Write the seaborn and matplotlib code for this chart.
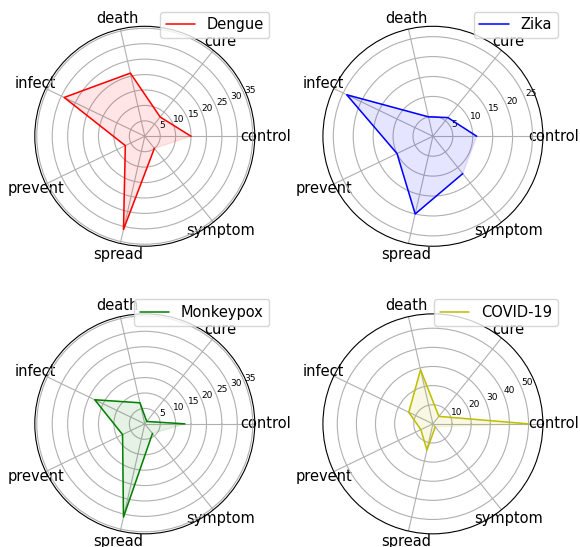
import numpy as np
import seaborn as sns
import matplotlib.pyplot as plt

# categories around the radar, counter-clockwise from the right
categories = ['control', 'cure', 'death', 'infect', 'prevent', 'spread', 'symptom']

# one list of values per disease
dengue = [15, 8, 21, 29, 7, 31, 5]
zika = [11, 6, 5, 24, 10, 20, 12]
monkeypox = [13, 1, 7, 18, 8, 31, 4]
covid = [50, 5, 29, 14, 7, 14, 2]

diseases = ['Dengue', 'Zika', 'Monkeypox', 'COVID-19']
series = [dengue, zika, monkeypox, covid]
colors = ['r', 'b', 'g', 'y']

# plain white look, black outer ring, grey grid, black text
sns.set_style('white', {'axes.grid': True, 'grid.color': '#b0b0b0',
                        'axes.edgecolor': 'black', 'text.color': 'black',
                        'xtick.color': 'black', 'ytick.color': 'black',
                        'axes.labelcolor': 'black'})
plt.rcParams['font.family'] = ['DejaVu Sans']

fig, axes = plt.subplots(2, 2, figsize=(5.8, 5.47), dpi=100,
                         subplot_kw=dict(polar=True))
fig.subplots_adjust(left=0.06, right=0.936, bottom=0.024, top=0.952,
                    wspace=0.31, hspace=0.307)

angles = np.linspace(0, 2 * np.pi, len(categories), endpoint=False)
closed = np.concatenate([angles, angles[:1]])

for ax, name, vals, c in zip(axes.flat, diseases, series, colors):
    vals_closed = list(vals) + [vals[0]]
    sns.lineplot(x=closed, y=vals_closed, ax=ax, sort=False, color=c,
                 linewidth=1.1, label=name)
    ax.fill(closed, vals_closed, color=c, alpha=0.1)

    # angle ticks on the categories, pulled in close to the ring
    ax.set_xticks(angles)
    ax.set_xticklabels(categories, fontsize=10.5, color='black')
    ax.tick_params(axis='x', pad=-2.5)
    ax.set_ylim(0, max(vals) * 1.15)
    ax.tick_params(axis='y', labelsize=6.5, labelcolor='black')
    ax.set_xlabel('')
    ax.set_ylabel('')
    ax.grid(True, color='#b0b0b0', linewidth=0.8)

    # legend pushed up and to the right of the circle
    leg = ax.legend(loc='upper right', bbox_to_anchor=(1.1, 1.1), fontsize=10.5)
    for t in leg.get_texts():
        t.set_color('black')

fig.savefig('out.png', dpi=100)
